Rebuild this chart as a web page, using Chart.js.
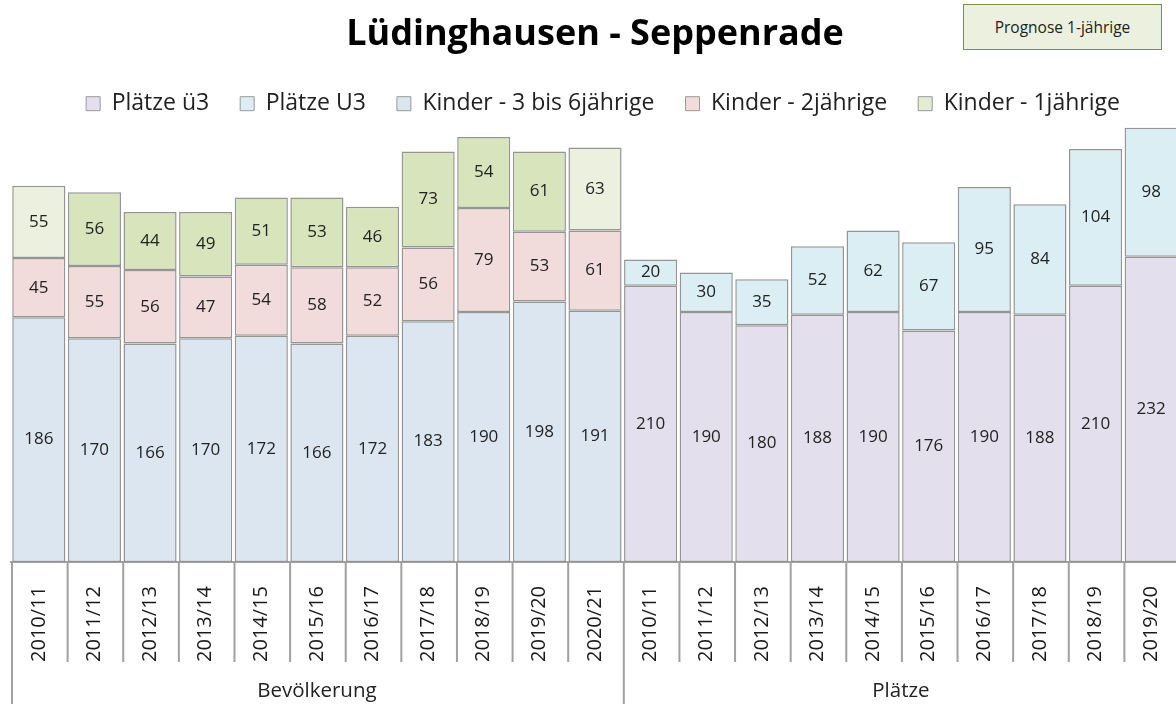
<!DOCTYPE html>
<html>
<head>
<meta charset="utf-8">
<script src="https://cdn.jsdelivr.net/npm/chart.js@4.4.1/dist/chart.umd.min.js"></script>
<style>
    body { margin: 0; overflow: hidden; background: #fff; }
    #wrap { position: relative; width: 1180px; height: 704px; }
    #chart { display: block; }
    #prognose {
        position: absolute; left: 963px; top: 4px; width: 197px; height: 44px;
        background: #ebf1de; border: 1.5px solid #77933c;
        font: 15.5px "Open Sans", sans-serif; color: #222;
        display: flex; align-items: center; justify-content: center;
    }
</style>
</head>
<body>
<div id="wrap">
    <canvas id="chart" width="1180" height="704"></canvas>
    <div id="prognose">Prognose 1-jährige</div>
</div>
<script>
// categories
const bevLabels = ['2010/11','2011/12','2012/13','2013/14','2014/15','2015/16','2016/17','2017/18','2018/19','2019/20','2020/21'];
const platzLabels = ['2010/11','2011/12','2012/13','2013/14','2014/15','2015/16','2016/17','2017/18','2018/19','2019/20'];
const groupNames = ['Bevölkerung', 'Plätze'];

// Bevölkerung
const kinder36 = [186,170,166,170,172,166,172,183,190,198,191];
const kinder2  = [45,55,56,47,54,58,52,56,79,53,61];
const kinder1  = [55,56,44,49,51,53,46,73,54,61,63];

// Plätze
const plaetzeUe3 = [210,190,180,188,190,176,190,188,210,232];
const plaetzeU3  = [20,30,35,52,62,67,95,84,104,98];

const legendNames = ['Plätze ü3', 'Plätze U3', 'Kinder - 3 bis 6jährige', 'Kinder - 2jährige', 'Kinder - 1jährige'];
const legendColors = ['#e4dfec', '#daeef3', '#dce6f1', '#f2dcdb', '#e4ecd3'];

const green = '#d8e4bc';
const greenPrognose = '#ebf1de';

document.addEventListener('DOMContentLoaded', drawChart);

function drawChart(){
    let labels = bevLabels.concat(platzLabels);
    let noBev = bevLabels.map(() => null);
    let noPlatz = platzLabels.map(() => null);

    let kinder1Colors = bevLabels.map((l, i) => (i === 0 || i === bevLabels.length - 1) ? greenPrognose : green);

    let border = '#959595';
    let data = {
        labels: labels,
        datasets: [
            { label: legendNames[0], data: noBev.concat(plaetzeUe3), backgroundColor: '#e4dfec' },
            { label: legendNames[1], data: noBev.concat(plaetzeU3), backgroundColor: '#daeef3' },
            { label: legendNames[2], data: kinder36.concat(noPlatz), backgroundColor: '#dce6f1' },
            { label: legendNames[3], data: kinder2.concat(noPlatz), backgroundColor: '#f2dcdb' },
            { label: legendNames[4], data: kinder1.concat(noPlatz), backgroundColor: kinder1Colors }
        ]
    };
    data.datasets.forEach(ds => {
        ds.borderColor = border;
        ds.borderWidth = 1.5;
        ds.borderSkipped = false;
        ds.barPercentage = 0.955;
        ds.categoryPercentage = 1.0;
    });

    let extras = {
        id: 'extras',
        afterLayout(chart){
            // legend sits a bit right of centre in the original
            chart.legend.left += 8;
            chart.legend.right += 8;
        },
        afterDatasetsDraw(chart){
            let ctx = chart.ctx;
            ctx.save();
            ctx.font = '17px "Open Sans"';
            ctx.fillStyle = '#222';
            ctx.textAlign = 'center';
            ctx.textBaseline = 'middle';
            chart.data.datasets.forEach((ds, i) => {
                let meta = chart.getDatasetMeta(i);
                meta.data.forEach((bar, j) => {
                    let v = ds.data[j];
                    if (v === null) return;
                    let p = bar.getCenterPoint();
                    ctx.fillText(v, p.x, p.y);
                });
            });
            ctx.restore();
        },
        afterDraw(chart){
            let ctx = chart.ctx;
            let xs = chart.scales.x;
            let bottom = chart.chartArea.bottom;
            let half = (xs.getPixelForValue(1) - xs.getPixelForValue(0)) / 2;
            let n = labels.length;
            let bounds = [];
            for (let i = 0; i <= n; i++) {
                bounds.push(i < n ? xs.getPixelForValue(i) - half : xs.getPixelForValue(n - 1) + half);
            }
            ctx.save();
            ctx.strokeStyle = '#a0a0a0';
            ctx.lineWidth = 2;
            bounds.forEach((x, i) => {
                let isGroup = (i === 0 || i === bevLabels.length || i === n);
                ctx.beginPath();
                ctx.moveTo(x + 1, bottom);
                ctx.lineTo(x + 1, isGroup ? chart.height : bottom + 100);
                ctx.stroke();
            });
            ctx.font = '20.5px "Open Sans"';
            ctx.fillStyle = '#222';
            ctx.textAlign = 'center';
            ctx.textBaseline = 'middle';
            ctx.fillText(groupNames[0], (bounds[0] + bounds[bevLabels.length]) / 2, bottom + 129);
            ctx.fillText(groupNames[1], (bounds[bevLabels.length] + bounds[n]) / 2, bottom + 129);
            ctx.restore();
        }
    };

    let config = {
        type: 'bar',
        data: data,
        plugins: [extras],
        options: {
            animation: false,
            responsive: false,
            layout: { padding: { left: 11, right: 1, top: 0, bottom: 0 } },
            plugins: {
                tooltip: { enabled: false },
                title: {
                    display: true,
                    text: 'Lüdinghausen - Seppenrade',
                    color: '#000',
                    font: { family: 'Open Sans', size: 36, weight: 'bold' },
                    padding: { top: 13, bottom: 5 }
                },
                legend: {
                    display: true,
                    labels: {
                        boxWidth: 14,
                        boxHeight: 14,
                        padding: 31,
                        color: '#222',
                        font: { family: 'Open Sans', size: 23 },
                        generateLabels: () => legendNames.map((t, i) => ({
                            text: t, fillStyle: legendColors[i], strokeStyle: '#999',
                            lineWidth: 1, hidden: false, datasetIndex: i, fontColor: '#222'
                        }))
                    }
                }
            },
            scales: {
                x: {
                    stacked: true,
                    grid: { display: false },
                    border: { display: true, color: '#a0a0a0', width: 2 },
                    ticks: {
                        minRotation: 90,
                        maxRotation: 90,
                        autoSkip: false,
                        padding: 16,
                        color: '#1a1a1a',
                        font: { family: 'Open Sans', size: 20 }
                    },
                    afterFit: (scale) => {
                        scale.height = 142;
                        scale.paddingLeft = 0;
                        scale.paddingRight = 0;
                    }
                },
                y: {
                    stacked: true,
                    display: false,
                    min: 0,
                    max: 332
                }
            }
        }
    };
    new Chart(document.getElementById('chart'), config);
}
</script>
</body>
</html>
